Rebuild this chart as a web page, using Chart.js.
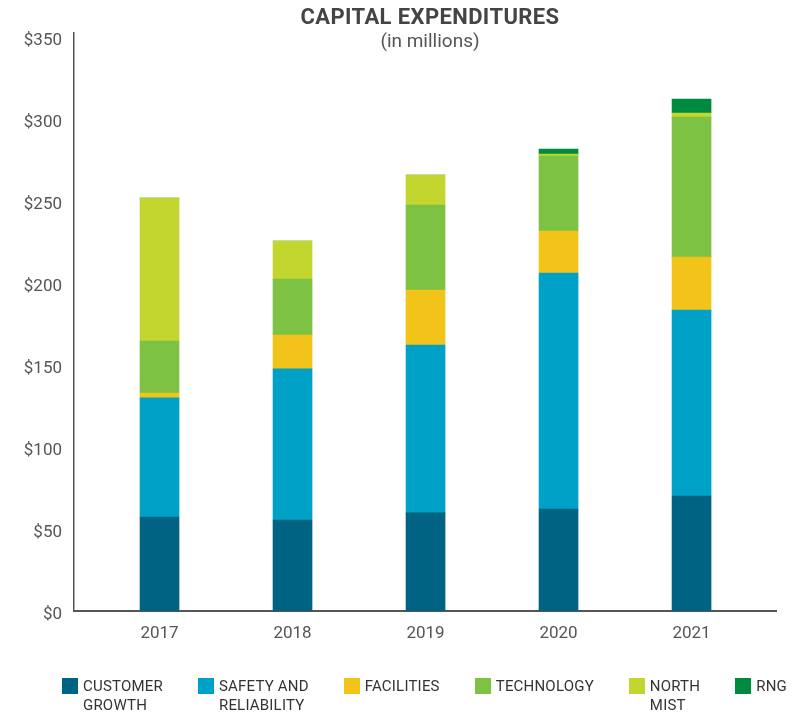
<!DOCTYPE html>
<html>
<head>
<meta charset="utf-8">
<script src="https://cdn.jsdelivr.net/npm/chart.js@4.4.1/dist/chart.umd.min.js"></script>
<style>
  body { margin: 0; background: #fff; }
  #wrap { position: relative; width: 804px; height: 714px; font-family: Roboto, sans-serif; }
  #title { position: absolute; left: 130px; width: 600px; top: 4px; text-align: center; color: #444; }
  #title .main { font-size: 22px; font-weight: bold; line-height: 25px; letter-spacing: 0.4px; }
  #title .sub { font-size: 19px; line-height: 24px; color: #555; }
  #legend { position: absolute; left: 62px; top: 677px; display: flex; gap: 35px; }
  .item { display: flex; align-items: flex-start; }
  .box { width: 16px; height: 16px; margin-top: 1px; margin-right: 5px; }
  .lbl { font-size: 15px; line-height: 19px; color: #333; letter-spacing: 0.2px; }
</style>
</head>
<body>
<div id="wrap">
  <canvas id="chart" width="804" height="714"></canvas>
  <div id="title"><div class="main">CAPITAL EXPENDITURES</div><div class="sub">(in millions)</div></div>
  <div id="legend"></div>
</div>
<script>
// годы
const years = ['2017', '2018', '2019', '2020', '2021'];

// значения в млн $
const customerGrowth = [57.3, 55.5, 59.8, 62.2, 70.1];
const safetyReliability = [72.6, 92.1, 102.4, 143.9, 113.4];
const facilities = [3.0, 20.7, 33.5, 25.6, 32.3];
const technology = [31.7, 34.1, 51.8, 45.7, 85.4];
const northMist = [87.2, 23.2, 18.3, 1.2, 2.4];
const rng = [0, 0, 0, 3.0, 8.5];

const yTicks = [0, 50, 100, 150, 200, 250, 300, 350];

const series = [
  { label: ['CUSTOMER', 'GROWTH'], values: customerGrowth, color: '#006384' },
  { label: ['SAFETY AND', 'RELIABILITY'], values: safetyReliability, color: '#00a1c7' },
  { label: ['FACILITIES'], values: facilities, color: '#f2c419' },
  { label: ['TECHNOLOGY'], values: technology, color: '#7dc243' },
  { label: ['NORTH', 'MIST'], values: northMist, color: '#c2d62f' },
  { label: ['RNG'], values: rng, color: '#008a3f' }
];

const datasets = series.map(s => ({
  label: s.label.join(' '),
  data: s.values.map((v, i) => ({ x: i, y: v })),
  backgroundColor: s.color,
  borderWidth: 0,
  barThickness: 39
}));

new Chart(document.getElementById('chart'), {
  type: 'bar',
  data: { datasets },
  options: {
    responsive: false,
    animation: false,
    layout: { padding: { top: 33, right: 28, left: 0, bottom: 0 } },
    plugins: {
      legend: { display: false },
      tooltip: { enabled: false }
    },
    scales: {
      x: {
        type: 'linear',
        stacked: true,
        offset: false,
        min: -0.643,
        max: 4.635,
        afterFit(scale) { scale.height = 103; },
        grid: { display: false, drawTicks: false, offset: false },
        border: { display: true, color: '#555', width: 2 },
        ticks: {
          stepSize: 1,
          includeBounds: false,
          padding: 13,
          color: '#555',
          font: { family: 'Roboto', size: 17 },
          callback: v => years[v] ?? ''
        }
      },
      y: {
        stacked: true,
        min: 0,
        max: 352.4,
        afterFit(scale) { scale.width = 74; },
        afterBuildTicks(scale) { scale.ticks = yTicks.map(v => ({ value: v })); },
        grid: { display: false, drawTicks: false },
        border: { display: true, color: '#555', width: 1.5 },
        ticks: {
          padding: 12,
          labelOffset: 4,
          color: '#555',
          font: { family: 'Roboto', size: 17 },
          callback: v => '$' + v
        }
      }
    }
  }
});

// легенда в HTML
const legend = document.getElementById('legend');
for (const s of series) {
  const item = document.createElement('div');
  item.className = 'item';
  item.innerHTML = '<div class="box" style="background:' + s.color + '"></div>' +
    '<div class="lbl">' + s.label.join('<br>') + '</div>';
  legend.appendChild(item);
}
</script>
</body>
</html>
